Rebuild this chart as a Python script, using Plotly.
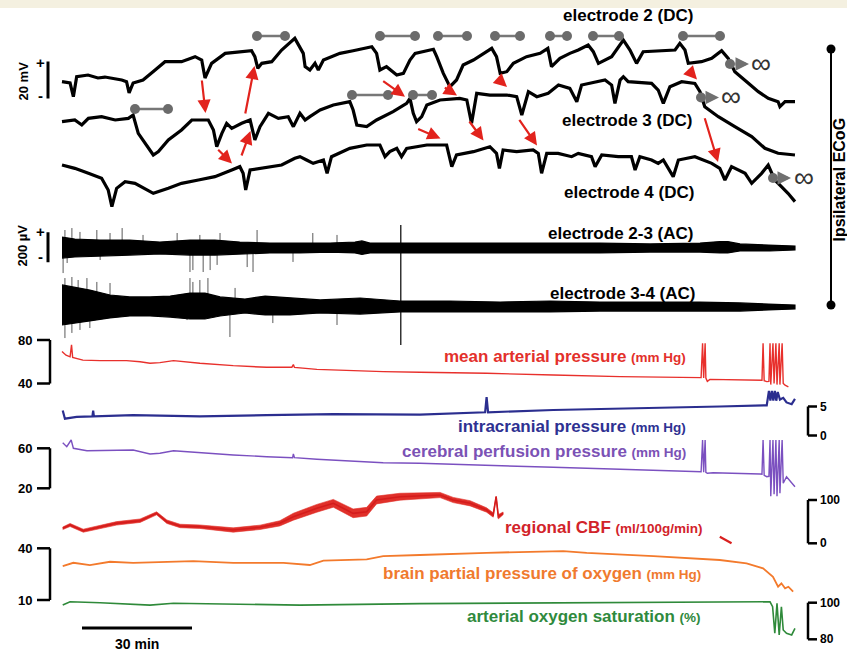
import plotly.graph_objects as go

# ------------------------------------------------------------------ data
# time axis: minutes from the start of the displayed recording

# DC electrocorticography (mV, relative)
e2_t = [0, 2.2, 3.1, 4.0, 7.1, 9.8, 11.7, 16.3, 17.6, 18.3, 19.4, 22.1, 25.4, 28.1, 32.6, 36.3, 38.1, 39.0, 40.8, 44.5,
        51.7, 52.6, 53.4, 54.5, 57.2, 59.9, 63.5, 65.8, 66.3, 67.6, 69.0, 69.9, 71.3, 75.8, 79.4, 84.5, 85.8, 86.7, 88.5, 91.3,
        93.1, 94.9, 96.3, 98.5, 101.3, 102.2, 104.0, 105.8, 107.6, 109.4, 112.2, 115.8, 117.2, 118.5, 119.5, 121.3, 123.1, 126.7, 130.4, 132.5,
        133.5, 135.8, 138.5, 140.8, 143.5, 144.9, 146.3, 149.9, 153.1, 154.9, 156.7, 158.5, 162.6, 167.2, 168.5, 169.9, 170.8, 174.4, 177.2, 179.9,
        181.7, 183.5, 187.2, 189.9, 192.6, 195.3, 195.8, 197.2, 199.9]
e2_mv = [-0.9, -1.6, -9.0, 1.8, 2.7, 1.1, 1.6, 0, -0.9, -7.0, -1.6, 0, 5.4, 9.9, 9.9, 12.6, 10.8, 1.1, 9.0, 14.4,
         15.8, 12.6, 6.3, 9.0, 9.9, 16.2, 22.5, 14.4, 7.2, 5.4, 9.0, 5.4, 10.8, 14.4, 15.8, 18.0, 14.4, 5.4, 7.2, 2.7,
         3.6, 10.8, 14.4, 15.3, 16.6, 12.6, 3.6, -3.6, 0, 8.1, 10.8, 15.3, 17.1, 12.6, 3.6, 4.5, 9.0, 12.6, 14.4, 17.1,
         7.2, 11.7, 14.4, 16.2, 18.9, 15.3, 9.0, 12.6, 21.6, 16.2, 9.0, 15.3, 15.8, 16.2, 19.8, 16.2, 9.0, 9.9, 11.7, 15.8,
         11.7, 4.5, -1.8, -6.3, -9.9, -11.7, -14.4, -11.7, -11.7]

e3_t = [0, 3.5, 5.4, 7.2, 10.8, 14.5, 18.1, 19.4, 20.8, 22.6, 24.9, 26.3, 29.0, 32.6, 35.4, 39.9, 41.3, 42.2, 43.6, 44.9,
        46.3, 49.0, 51.3, 52.6, 54.0, 56.3, 59.0, 61.7, 63.1, 64.9, 66.3, 67.6, 70.4, 74.0, 78.5, 79.4, 80.4, 83.1, 85.8, 90.3,
        94.0, 94.9, 95.8, 96.7, 98.1, 99.5, 103.1, 108.5, 110.4, 111.7, 113.1, 116.7, 121.3, 124.0, 125.4, 127.2, 129.5, 132.6, 135.4, 138.5,
        140.4, 141.7, 148.1, 149.9, 150.8, 152.2, 153.1, 154.4, 160.8, 162.6, 164.0, 165.8, 169.0, 172.6, 174.0, 175.3, 179.0, 183.5, 188.1, 191.7,
        195.3, 199.9]
e3_mv = [-0.9, 0, -2.7, 0.9, 1.8, 0, 0.9, 2.7, -7.2, -12.6, -18.9, -17.1, -10.8, -5.4, 0, 0, -5.4, -14.4, -7.2, -1.8,
         -4.5, -1.8, 0, -10.8, -3.6, 3.6, 0.9, 1.8, -3.6, 3.6, 0, 1.8, 5.4, 8.1, 9.9, 5.4, -2.7, -3.6, 0, 4.5,
         9.0, 11.7, 3.6, -0.9, 1.8, 8.1, 10.8, 11.7, 10.8, -1.8, 14.4, 13.5, 13.5, 12.6, 2.7, 15.3, 12.6, 14.4, 18.9, 17.1,
         9.9, 18.9, 21.6, 18.9, 9.0, 21.6, 23.4, 20.7, 19.8, 16.2, 9.0, 18.0, 20.7, 19.8, 15.3, 7.2, 1.8, -3.6, -9.0, -15.3,
         -18.0, -18.9]

e4_t = [0, 3.5, 7.2, 10.8, 12.6, 13.6, 14.9, 17.2, 19.9, 22.6, 24.9, 29.0, 32.6, 37.2, 41.7, 46.3, 48.5, 49.4, 50.1, 51.3,
        54.5, 59.9, 63.5, 64.9, 66.7, 68.5, 71.3, 72.3, 73.5, 78.5, 83.1, 86.7, 88.1, 89.4, 91.3, 92.6, 94.0, 99.5, 104.9, 106.3,
        107.6, 112.2, 116.7, 118.5, 119.3, 120.3, 124.0, 128.5, 129.9, 130.8, 132.2, 135.3, 139.0, 140.8, 144.4, 145.4, 147.2, 151.7, 155.3, 156.3,
        157.6, 160.8, 162.6, 164.0, 166.7, 168.1, 172.6, 177.2, 179.4, 180.8, 182.6, 186.3, 188.1, 190.8, 192.6, 194.4, 196.2, 198.0, 199.9]
e4_mv = [0, -1.8, -4.5, -7.2, -13.5, -22.5, -12.6, -9.0, -9.9, -12.6, -15.3, -12.6, -9.9, -8.1, -6.3, -2.7, -0.9, -4.5, -13.5, -2.7,
         -1.8, 0, 3.6, 4.5, 2.7, 0.9, 2.7, -4.5, 4.5, 9.0, 10.8, 10.8, 4.5, 7.2, 9.0, 4.5, 9.0, 10.8, 10.8, -0.9,
         5.4, 7.2, 9.9, 6.3, -1.8, 8.1, 7.2, 8.1, 6.3, -4.5, 6.3, 6.3, 4.5, 6.3, 4.5, -0.9, 5.4, 4.5, 4.5, -2.7,
         4.5, 2.7, 0.9, 2.7, -6.3, 2.7, 4.5, 0.9, -1.8, -8.1, -0.9, -4.5, -9.9, -4.5, 0, -8.1, -11.7, -15.3, -19.8]

# AC electrocorticography: envelope (µV) of the activity band
ac23_t = [0, 3.5, 10.4, 18.5, 26.7, 34.9, 41.7, 48.5, 56.7, 64.9, 73.1, 79.9, 81.8, 84.0, 92.2, 105.8, 119.5, 133.1, 146.7,
          160.4, 174.0, 179.4, 181.6, 184.9, 193.1, 199.9]
ac23_hi = [73, 60, 53, 53, 40, 53, 53, 40, 33, 33, 33, 40, 47, 33, 33, 33, 33, 33, 33, 27, 33, 43, 43, 27, 20, 13]
ac23_lo = [-67, -60, -53, -47, -40, -47, -47, -40, -33, -33, -27, -33, -43, -33, -33, -33, -33, -33, -33, -27, -27, -33, -33, -20, -20, -13]
ac23_spk_t = [0.8, 2.7, 4.9, 9.5, 13.1, 16.4, 22.1, 31.4, 37.6, 43.1, 53.2, 68.4, 75.0,
              0.3, 1.4, 10.4, 34.9, 35.7, 38.5, 40.4, 42.3, 50.5, 52.1, 63.0]
ac23_spk_a = [120, 133, 107, 120, 100, 133, 87, 100, 87, 100, 120, 100, 87,
              -167, -100, -80, -160, -147, -160, -147, -113, -127, -160, -93]

ac34_t = [0, 3.5, 7.6, 13.1, 18.5, 24.0, 29.5, 34.9, 39.0, 43.1, 49.9, 55.4, 62.2, 70.4, 81.3, 92.2, 105.8, 119.5, 133.1,
          146.7, 160.4, 174.0, 184.9, 193.1, 199.9]
ac34_hi = [147, 133, 113, 80, 67, 67, 73, 93, 93, 67, 53, 73, 60, 47, 60, 40, 40, 33, 40, 33, 33, 33, 27, 20, 13]
ac34_lo = [-120, -107, -93, -73, -60, -60, -67, -80, -80, -60, -40, -53, -53, -40, -47, -33, -33, -33, -33, -27, -27, -27, -27, -20, -13]
ac34_spk_t = [0.8, 2.7, 4.4, 6.8, 9.5, 13.1, 34.9, 35.7, 37.6, 39.8, 47.2,
              0.8, 2.7, 4.9, 7.6, 34.1, 45.8, 57.5, 75.0]
ac34_spk_a = [193, 200, 180, 193, 167, 160, 193, 167, 180, 193, 127,
              -207, -173, -153, -140, -87, -200, -107, -120]

artifact_t = 92.4
artifact_ac23 = [153, -113]
artifact_ac34 = [280, -253]

# mean arterial pressure (mm Hg)
map_t = [0, 1.1, 2.2, 2.6, 2.9, 5.7, 10.4, 17.6, 21.3, 24.0, 26.7, 30.4, 37.6, 46.7, 55.8, 62.7, 63.1, 63.4, 69.5, 78.5,
         87.6, 97.6, 115.8, 134.0, 152.2, 174.3, 174.7, 175.0, 175.4, 175.6, 176.0, 176.7, 190.4, 190.9, 191.2, 191.5, 192.2, 192.8, 193.1, 193.3,
         193.9, 194.2, 194.7, 195.0, 195.6, 195.8, 196.4, 196.7, 197.2, 198.1]
map_v = [69.5, 66, 64.5, 75.5, 64, 61.5, 61, 61, 60, 58.6, 59.2, 61, 58.6, 56.4, 54.9, 55, 57.5, 54.8, 53, 51.8,
         50.9, 50.3, 49.4, 47.8, 46.3, 45.4, 77, 45, 77, 45, 42, 43.8, 43.2, 43, 77, 42.5, 41.7, 42, 77, 39,
         77, 40, 77, 39, 77, 39, 77, 40, 38.5, 37]

# intracranial pressure (mm Hg)
icp_t = [0.2, 0.8, 4.0, 8.3, 8.5, 8.7, 19.4, 37.6, 55.8, 74.0, 97.6, 115.4, 115.8, 116.2, 134.0, 152.2, 170.4, 179.4, 192.2, 192.8,
         193.2, 193.6, 194.0, 194.4, 194.8, 195.2, 195.8, 196.7, 197.6, 199.0, 199.9]
icp_v = [4.3, 2.9, 3.2, 3.3, 4.3, 3.3, 3.5, 3.3, 3.5, 3.7, 3.6, 4.0, 6.6, 4.0, 4.4, 4.6, 4.8, 5.0, 5.2, 7.7,
         6.0, 7.7, 6.0, 7.7, 6.0, 7.5, 6.2, 6.5, 5.7, 5.4, 6.3]

# cerebral perfusion pressure (mm Hg)
cpp_t = [0.2, 1.3, 2.5, 3.1, 6.8, 19.4, 24.0, 26.7, 30.4, 37.6, 46.7, 55.8, 62.9, 63.1, 63.4, 69.5, 78.5, 87.6, 97.6, 115.8,
         134.0, 152.2, 174.3, 174.7, 175.0, 175.4, 175.6, 176.0, 177.6, 190.4, 190.9, 191.2, 191.5, 192.2, 192.8, 193.1, 193.3, 193.9, 194.2, 194.7,
         195.0, 195.6, 195.8, 196.4, 196.7, 197.6, 199.9]
cpp_v = [65.6, 61.6, 68.3, 60, 57.6, 58.3, 54.3, 55, 57.6, 55.6, 53.3, 51.6, 50.6, 54.3, 50.6, 49, 47.6, 45.6, 45, 43.3,
         41, 39, 36.6, 68.3, 36, 68.3, 36, 35, 35.6, 34.3, 34, 68.3, 33, 31.6, 32, 68.3, 12, 68.3, 14, 68.3,
         12, 68.3, 15, 68.3, 25, 31.6, 21.6]

# regional cerebral blood flow (ml/100g/min): main record, its noise half-width, and a late short segment
cbf_t = [0.2, 2.2, 5.8, 10.4, 14.9, 21.3, 25.8, 28.6, 32.2, 37.6, 46.7, 54.0, 59.4, 63.1, 69.5, 74.0, 76.7, 79.4, 83.1, 85.8,
         92.2, 97.6, 103.1, 106.7, 111.3, 115.8, 117.6, 118.4, 119.0, 120.3]
cbf_v = [34.6, 42.3, 29.1, 38.3, 46.1, 52.2, 69.2, 49.9, 40, 38.3, 30.7, 36.9, 46.1, 61.4, 80.8, 92.4, 80.8, 69.2, 73, 100,
         107.6, 109.5, 111.5, 100, 92.4, 76.9, 65.4, 107.6, 61.4, 69.2]
cbf_noise = [3, 3.5, 3.5, 4, 4, 4, 3.5, 4, 4, 4, 5, 5, 6, 8, 9, 9, 9, 10, 10, 9,
             8, 7, 6, 6, 6, 5, 5, 1, 5, 3]
cbf_late_t = [179.4, 182.6]
cbf_late_v = [15.2, 0]

# brain tissue partial pressure of oxygen (mm Hg)
pto_t = [0.2, 3.1, 7.6, 13.1, 19.4, 35.8, 46.7, 60.4, 67.6, 71.3, 83.1, 87.6, 97.6, 115.8, 136.7, 143.1, 161.3, 179.4, 186.7, 191.2,
         193.9, 195.3, 196.2, 197.2, 198.1, 199.4]
pto_v = [29.7, 31.6, 30.3, 32.2, 31.6, 32.6, 31.6, 31.6, 30.3, 32.8, 33.6, 35.5, 36.1, 37.4, 38.4, 37.4, 35.5, 33.2, 31.3, 28.4,
         23.5, 17.7, 19.7, 16.8, 17.7, 14.8]

# arterial oxygen saturation (%)
sao_t = [0.2, 2.2, 10.4, 24.0, 30.4, 46.7, 64.9, 97.6, 134.0, 170.4, 193.1, 193.8, 194.4, 195.0, 195.6, 196.2, 196.7, 197.6, 199.0, 199.9]
sao_v = [98.7, 100.5, 100, 98.7, 99.7, 99.1, 98.7, 99.5, 100, 100.5, 100.5, 97.8, 83.3, 99.7, 82.4, 97.8, 85.1, 83.3, 82.4, 86.0]

# ------------------------------------------------------------------ layout helpers
W, H = 847, 651
PX_PER_MIN = 110 / 30.0     # 30-min scale bar is 110 px long
T0_PX = 62                  # horizontal pixel of t = 0
FONT = "Liberation Sans, Arial, Helvetica, sans-serif"


def px(x):
    return x / W


def py(y):
    return 1 - y / H


def cal(v1, p1, v2, p2):
    """y-axis range so that value v1 sits at pixel row p1 and v2 at p2."""
    s = (v1 - v2) / (p2 - p1)
    return [v1 - (H - p1) * s, v1 + p1 * s]


axes = {
    "y":   cal(0, 80, 20, 43),        # electrode 2 DC (mV)
    "y2":  cal(0, 120, 20, 83),       # electrode 3 DC
    "y3":  cal(0, 165, 20, 128),      # electrode 4 DC
    "y4":  cal(0, 248, 200, 218),     # electrode 2-3 AC (µV)
    "y5":  cal(0, 307, 200, 277),     # electrode 3-4 AC
    "y6":  cal(80, 340, 40, 383.5),   # MAP
    "y7":  cal(5, 406.5, 0, 435.5),   # ICP
    "y8":  cal(60, 448.3, 20, 488.3), # CPP
    "y9":  cal(100, 500, 0, 543.3),   # CBF
    "y10": cal(40, 548.3, 10, 600),   # ptiO2
    "y11": cal(100, 602.7, 80, 639.3) # SaO2
}

fig = go.Figure()


def line(t, v, ax, color, width):
    fig.add_trace(go.Scatter(x=t, y=v, yaxis=ax, mode="lines", hoverinfo="skip",
                             line=dict(color=color, width=width), showlegend=False))


def band(t, hi, lo, ax, color="#000000", width=1.2):
    fig.add_trace(go.Scatter(x=list(t) + list(t[::-1]), y=list(hi) + list(lo[::-1]), yaxis=ax, mode="lines",
                             fill="toself", fillcolor=color, line=dict(color=color, width=width),
                             hoverinfo="skip", showlegend=False))


def spikes(t, a, ax, color="#5a5a5a", width=1):
    xs, ys = [], []
    for ti, ai in zip(t, a):
        xs += [ti, ti, None]
        ys += [0, ai, None]
    line(xs, ys, ax, color, width)


# DC traces
line(e2_t, e2_mv, "y", "#000000", 3.2)
line(e3_t, e3_mv, "y2", "#000000", 3.2)
line(e4_t, e4_mv, "y3", "#000000", 3.2)

# AC traces
spikes(ac23_spk_t, ac23_spk_a, "y4")
band(ac23_t, ac23_hi, ac23_lo, "y4")
spikes(ac34_spk_t, ac34_spk_a, "y5")
band(ac34_t, ac34_hi, ac34_lo, "y5")
line([artifact_t, artifact_t], artifact_ac23, "y4", "#000000", 1.2)
line([artifact_t, artifact_t], artifact_ac34, "y5", "#000000", 1.2)

# physiology
line(map_t, map_v, "y6", "#e8302c", 1.4)
line(icp_t, icp_v, "y7", "#2b2e8f", 2.2)
line(cpp_t, cpp_v, "y8", "#7b50c0", 1.4)
band(cbf_t, [v + n for v, n in zip(cbf_v, cbf_noise)], [v - n for v, n in zip(cbf_v, cbf_noise)],
     "y9", color="#e0302a", width=0.6)
line(cbf_t, cbf_v, "y9", "#d41c1c", 1.6)
line(cbf_late_t, cbf_late_v, "y9", "#d9201f", 2.2)
line(pto_t, pto_v, "y10", "#f37a2c", 1.8)
line(sao_t, sao_v, "y11", "#2f8a3a", 1.6)

# ------------------------------------------------------------------ shapes & annotations
shapes = []
ann = []

shapes.append(dict(type="rect", xref="paper", yref="paper", x0=0, x1=1, y0=py(8), y1=1,
                   fillcolor="#f4f0e0", line=dict(width=0), layer="below"))


def seg(x0, y0, x1, y1, xref="paper", yref="paper", color="#000000", width=2.5):
    shapes.append(dict(type="line", xref=xref, yref=yref, x0=x0, y0=y0, x1=x1, y1=y1,
                       line=dict(color=color, width=width)))


def dot(xp, yp, r, color):
    shapes.append(dict(type="circle", xref="paper", yref="paper",
                       x0=px(xp - r), x1=px(xp + r), y0=py(yp + r), y1=py(yp - r),
                       fillcolor=color, line=dict(color=color, width=0)))


def text(xp, yp, s, size, color="#000000", xanchor="center", angle=0, yref="paper", yval=None):
    ann.append(dict(xref="paper", yref=yref, x=px(xp), y=py(yp) if yval is None else yval,
                    text=s, showarrow=False, xanchor=xanchor, yanchor="middle", textangle=angle,
                    font=dict(family=FONT, size=size, color=color)))


# scale bars for ECoG
seg(px(48), -10, px(48), 10, yref="y", width=3)
text(40, 62, "<b>+</b>", 15)
text(40, 95, "<b>-</b>", 15)
text(22.5, 81, "<b>20 mV</b>", 13, angle=-90)
seg(px(48), -95, px(48), 105, yref="y4", width=3)
text(40, 231, "<b>+</b>", 15)
text(40, 256, "<b>-</b>", 15)
text(22.5, 246, "<b>200 µV</b>", 13, angle=-90)

# left brackets
for ax, hi, lo in [("y6", 80, 40), ("y8", 60, 20), ("y10", 40, 10)]:
    seg(px(50), lo, px(50), hi, yref=ax, width=2.5)
    seg(px(37), hi, px(50), hi, yref=ax, width=2.5)
    seg(px(37), lo, px(50), lo, yref=ax, width=2.5)
    text(34, 0, "<b>%d</b>" % hi, 13, xanchor="right", yref=ax, yval=hi)
    text(34, 0, "<b>%d</b>" % lo, 13, xanchor="right", yref=ax, yval=lo)

# right brackets
for ax, hi, lo in [("y7", 5, 0), ("y9", 100, 0), ("y11", 100, 80)]:
    seg(px(808), lo, px(808), hi, yref=ax, width=2.5)
    seg(px(808), hi, px(817), hi, yref=ax, width=2.5)
    seg(px(808), lo, px(817), lo, yref=ax, width=2.5)
    text(818, 0, "<b>%d</b>" % hi, 12, xanchor="left", yref=ax, yval=hi)
    text(818, 0, "<b>%d</b>" % lo, 12, xanchor="left", yref=ax, yval=lo)

# 30 min scale bar
t_bar0 = (82 - T0_PX) / PX_PER_MIN
seg(t_bar0, py(628), t_bar0 + 30, py(628), xref="x", width=3)
text(137, 644, "<b>30 min</b>", 14)

# ipsilateral ECoG bracket
seg(px(831), py(49), px(831), py(305), width=2)
dot(831, 49, 4.5, "#000000")
dot(831, 305, 4.5, "#000000")
text(838.5, 180, "<b>Ipsilateral ECoG</b>", 16, angle=-90)

# trace labels
text(695, 15.5, "<b>electrode 2 (DC)</b>", 17, xanchor="right")
text(694, 120.5, "<b>electrode 3 (DC)</b>", 17, xanchor="right")
text(696, 192, "<b>electrode 4 (DC)</b>", 17, xanchor="right")
text(695, 233.5, "<b>electrode 2-3 (AC)</b>", 17, xanchor="right")
text(697, 293.5, "<b>electrode 3-4 (AC)</b>", 17, xanchor="right")

small = '<span style="font-size:13.5px">%s</span>'
text(688, 356, "<b>mean arterial pressure " + small % "(mm Hg)" + "</b>", 17, "#e3302b", "right")
text(688, 426, "<b>intracranial pressure " + small % "(mm Hg)" + "</b>", 17, "#2e3192", "right")
text(688, 451, "<b>cerebral perfusion pressure " + small % "(mm Hg)" + "</b>", 17, "#7b52b5", "right")
text(705, 527, "<b>regional CBF " + small % "(ml/100g/min)" + "</b>", 17, "#d2232a", "right")
text(703, 573, "<b>brain partial pressure of oxygen " + small % "(mm Hg)" + "</b>", 17, "#f07a2e", "right")
text(703, 616, "<b>arterial oxygen saturation " + small % "(%)" + "</b>", 17, "#2f8a3d", "right")

# gray dumbbells marking spreading depolarization duration
dumbbells = [(257, 285, 36), (380, 415, 36), (438, 467, 36), (495, 520, 36), (550, 567, 36), (593, 619, 36),
             (683, 720, 36), (135, 168, 109), (352, 388, 95), (413, 432, 95)]
for x0, x1, yy in dumbbells:
    seg(px(x0), py(yy), px(x1), py(yy), color="#777777", width=2.5)
    dot(x0, yy, 5, "#6b6b6b")
    dot(x1, yy, 5, "#6b6b6b")

# terminal depolarization markers
for xd, yd, xe, xi in [(730, 64, 749, 761), (701, 97.5, 719, 731), (773, 178, 791, 804)]:
    dot(xd, yd, 5, "#6b6b6b")
    ann.append(dict(xref="paper", yref="paper", x=px(xe), y=py(yd), ax=xd - xe + 4, ay=0, text="",
                    showarrow=True, arrowhead=2, arrowsize=0.9, arrowwidth=3, arrowcolor="#707070"))
    text(xi, yd - 1, "∞", 28, color="#333333")

# red propagation arrows: (tail x, tail y, tip x, tip y)
red_arrows = [(201.7, 79, 205.5, 113), (245, 115, 254.5, 66), (216.7, 148.3, 232, 163.5), (241, 157, 250.5, 131),
              (381.7, 80, 405, 96.7), (443.3, 86.7, 457, 95.5), (499.3, 80, 507, 87), (416.7, 128.3, 440.5, 138.5),
              (468.3, 120, 483.5, 140.5), (518.3, 118.3, 537, 145.5), (688.3, 70, 697, 79.5), (704.3, 116.7, 718, 162)]
for x0, y0, x1, y1 in red_arrows:
    ann.append(dict(xref="paper", yref="paper", x=px(x1), y=py(y1), ax=x0 - x1, ay=y0 - y1, text="",
                    showarrow=True, arrowhead=2, arrowsize=1.2, arrowwidth=2.2, arrowcolor="#e2231d"))

layout = dict(
    width=W, height=H, autosize=False,
    margin=dict(l=0, r=0, t=0, b=0, pad=0),
    paper_bgcolor="#ffffff", plot_bgcolor="#ffffff",
    showlegend=False,
    xaxis=dict(range=[-T0_PX / PX_PER_MIN, (W - T0_PX) / PX_PER_MIN], visible=False, fixedrange=True),
    shapes=shapes, annotations=ann,
)
for k, rng in axes.items():
    name = "yaxis" if k == "y" else "yaxis" + k[1:]
    d = dict(range=rng, domain=[0, 1], visible=False, fixedrange=True)
    if k != "y":
        d["overlaying"] = "y"
    layout[name] = d

fig.update_layout(**layout)
fig.write_html("out.html", config={"displayModeBar": False},
               post_script="document.body.style.margin='0px';document.body.style.overflow='hidden';")
